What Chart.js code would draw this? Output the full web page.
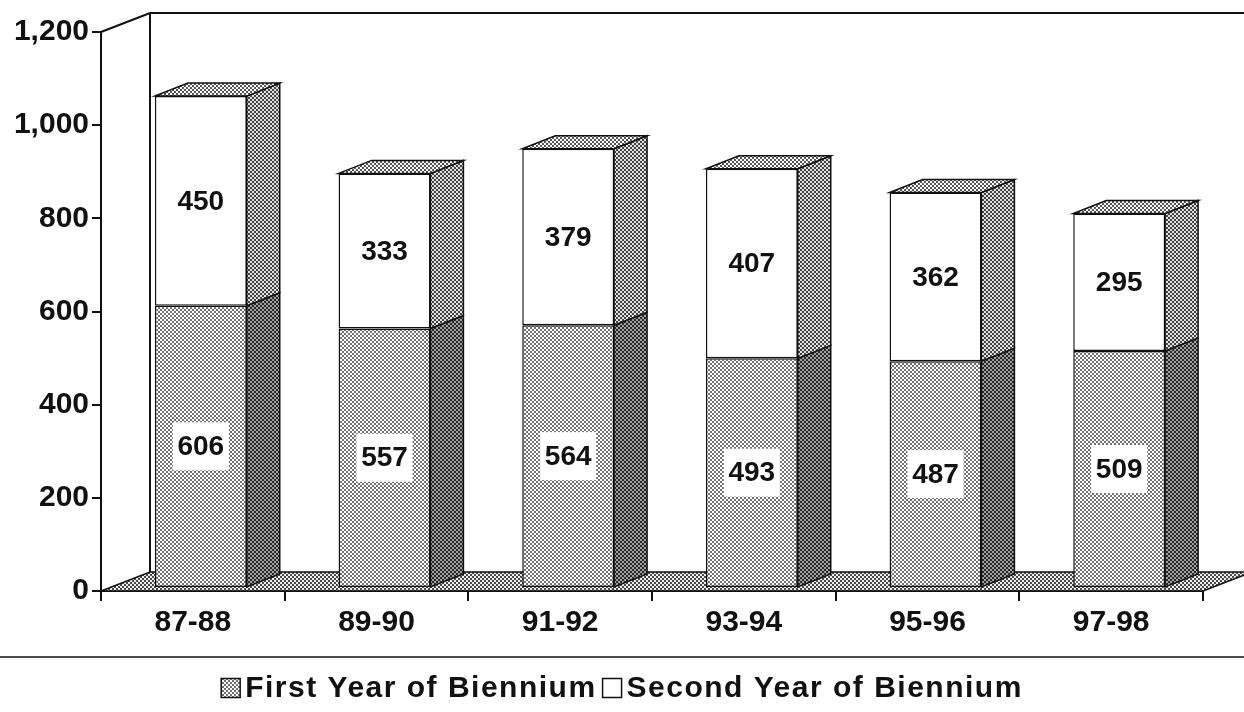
<!DOCTYPE html>
<html><head><meta charset="utf-8">
<script src="https://cdn.jsdelivr.net/npm/chart.js@4.4.1/dist/chart.umd.min.js"></script>
<style>html,body{margin:0;padding:0;background:#fff;}canvas{display:block;}</style>
</head><body>
<canvas id="c" width="1244" height="712"></canvas>
<script>
// ---- data ----
const categories = ['87-88', '89-90', '91-92', '93-94', '95-96', '97-98'];
const firstYear = [606, 557, 564, 493, 487, 509];
const secondYear = [450, 333, 379, 407, 362, 295];
const yTickValues = [0, 200, 400, 600, 800, 1000, 1200];
const seriesLabels = ['First Year of Biennium', 'Second Year of Biennium'];

// ---- style constants ----
const FONT = '"Liberation Sans", Arial, Helvetica, sans-serif';
const INK = '#111';
const FLOOR_DX = 49, FLOOR_DY = -19;   // depth of floor / back wall
const SHIFT_X = 8, SHIFT_Y = -3;       // bars sit slightly into the depth
const BAR_DX = 33, BAR_DY = -13;       // bar side / top depth

const canvas = document.getElementById('c');
const ctx0 = canvas.getContext('2d');
function pat(bg, fg) {
  const c = document.createElement('canvas'); c.width = 4; c.height = 4;
  const g = c.getContext('2d');
  g.fillStyle = bg; g.fillRect(0, 0, 4, 4);
  g.fillStyle = fg; g.fillRect(0, 0, 2, 2); g.fillRect(2, 2, 2, 2);
  return ctx0.createPattern(c, 'repeat');
}
const frontPat = pat('#ffffff', '#707070');
const sideLowPat = pat('#a0a0a0', '#282828');
const sideUpPat = pat('#e0e0e0', '#444444');
const topPat = pat('#ffffff', '#555555');
const floorPat = pat('#eeeeee', '#4a4a4a');

function poly(ctx, pts, fill) {
  ctx.beginPath();
  ctx.moveTo(pts[0][0], pts[0][1]);
  for (let i = 1; i < pts.length; i++) ctx.lineTo(pts[i][0], pts[i][1]);
  ctx.closePath();
  ctx.fillStyle = fill; ctx.fill();
  ctx.stroke();
}

const threeD = {
  id: 'threeD',
  beforeDatasetsDraw(chart) {
    const { ctx, chartArea: a, scales: { y } } = chart;
    const top = y.getPixelForValue(y.max), bot = y.getPixelForValue(0);
    ctx.save();
    ctx.strokeStyle = INK; ctx.lineWidth = 1.5; ctx.lineJoin = 'miter';
    poly(ctx, [[a.left, bot], [a.right, bot], [a.right + FLOOR_DX, bot + FLOOR_DY], [a.left + FLOOR_DX, bot + FLOOR_DY]], floorPat);
    ctx.lineWidth = 2;
    ctx.beginPath();
    ctx.moveTo(a.left, top);
    ctx.lineTo(a.left + FLOOR_DX, top + FLOOR_DY);
    ctx.lineTo(chart.width, top + FLOOR_DY);
    ctx.moveTo(a.left + FLOOR_DX, top + FLOOR_DY);
    ctx.lineTo(a.left + FLOOR_DX, bot + FLOOR_DY);
    ctx.stroke();
    ctx.restore();
    ctx.save();
    ctx.translate(SHIFT_X, SHIFT_Y);
  },
  afterDatasetsDraw(chart) {
    const ctx = chart.ctx;
    const m0 = chart.getDatasetMeta(0), m1 = chart.getDatasetMeta(1);
    ctx.strokeStyle = INK; ctx.lineWidth = 1.5;
    m0.data.forEach((b0, i) => {
      const p0 = b0.getProps(['x', 'y', 'base', 'width'], true);
      const p1 = m1.data[i].getProps(['x', 'y', 'base', 'width'], true);
      const xr = p0.x + p0.width / 2, xl = p0.x - p0.width / 2;
      poly(ctx, [[xr, p0.base], [xr, p0.y], [xr + BAR_DX, p0.y + BAR_DY], [xr + BAR_DX, p0.base + BAR_DY]], sideLowPat);
      poly(ctx, [[xr, p1.base], [xr, p1.y], [xr + BAR_DX, p1.y + BAR_DY], [xr + BAR_DX, p1.base + BAR_DY]], sideUpPat);
      poly(ctx, [[xl, p1.y], [xr, p1.y], [xr + BAR_DX, p1.y + BAR_DY], [xl + BAR_DX, p1.y + BAR_DY]], topPat);
    });
    // value labels
    ctx.font = 'bold 28px ' + FONT;
    ctx.textAlign = 'center'; ctx.textBaseline = 'middle';
    [m0, m1].forEach((m, di) => {
      const vals = chart.data.datasets[di].data;
      m.data.forEach((b, i) => {
        const p = b.getProps(['x', 'y', 'base'], true);
        const cy = (p.y + p.base) / 2;
        if (di === 0) { ctx.fillStyle = '#fff'; ctx.fillRect(p.x - 28, cy - 24, 56, 48); }
        ctx.fillStyle = INK;
        ctx.fillText(String(vals[i]), p.x, cy + 1);
      });
    });
    ctx.restore();
  }
};

const legendStrip = {
  id: 'legendStrip',
  afterDraw(chart) {
    const ctx = chart.ctx, W = chart.width;
    const lineY = 657, textY = 688, box = 19, gap = 5, between = 6;
    ctx.save();
    ctx.strokeStyle = INK; ctx.lineWidth = 1.5;
    ctx.beginPath(); ctx.moveTo(0, lineY); ctx.lineTo(W, lineY); ctx.stroke();
    ctx.font = 'bold 30px ' + FONT;
    if ('letterSpacing' in ctx) ctx.letterSpacing = '1.5px';
    ctx.textBaseline = 'middle'; ctx.textAlign = 'left';
    const items = chart.data.datasets.map(d => ({ text: d.label, fill: d.backgroundColor }));
    const widths = items.map(it => box + gap + ctx.measureText(it.text).width);
    let x = W / 2 - (widths.reduce((s, w) => s + w, 0) + between) / 2;
    items.forEach((it, i) => {
      ctx.fillStyle = it.fill; ctx.lineWidth = 1.5;
      ctx.fillRect(x, textY - box / 2, box, box);
      ctx.strokeRect(x, textY - box / 2, box, box);
      ctx.fillStyle = INK;
      ctx.fillText(it.text, x + box + gap, textY + 1);
      x += widths[i] + between;
    });
    ctx.restore();
  }
};

new Chart(canvas, {
  type: 'bar',
  data: {
    labels: categories,
    datasets: [
      { label: seriesLabels[0], data: firstYear, backgroundColor: frontPat, borderColor: INK, borderWidth: 1.5, borderSkipped: false, clip: false },
      { label: seriesLabels[1], data: secondYear, backgroundColor: '#ffffff', borderColor: INK, borderWidth: 1.5, borderSkipped: false, clip: false }
    ]
  },
  options: {
    responsive: false,
    animation: false,
    events: [],
    layout: { padding: { left: 0, right: 41, top: 32, bottom: 0 } },
    plugins: { legend: { display: false }, tooltip: { enabled: false } },
    datasets: { bar: { categoryPercentage: 1, barPercentage: 0.5 } },
    scales: {
      x: {
        stacked: true,
        offset: true,
        afterFit: s => { s.height = 121; },
        border: { display: true, color: INK, width: 2 },
        grid: { display: true, offset: true, drawOnChartArea: false, drawTicks: true, tickLength: 10, color: INK, lineWidth: 2 },
        ticks: { color: INK, font: { family: FONT, size: 30, weight: 'bold' }, padding: 4, maxRotation: 0 }
      },
      y: {
        stacked: true,
        min: 0, max: 1200,
        afterFit: s => { s.width = 101; },
        afterBuildTicks: s => { s.ticks = yTickValues.map(v => ({ value: v })); },
        border: { display: true, color: INK, width: 2 },
        grid: { display: true, drawOnChartArea: false, drawTicks: true, tickLength: 9, color: INK, lineWidth: 2 },
        ticks: { color: INK, font: { family: FONT, size: 30, weight: 'bold' }, padding: 3, callback: v => v.toLocaleString('en-US') }
      }
    }
  },
  plugins: [threeD, legendStrip]
});
</script>
</body></html>
